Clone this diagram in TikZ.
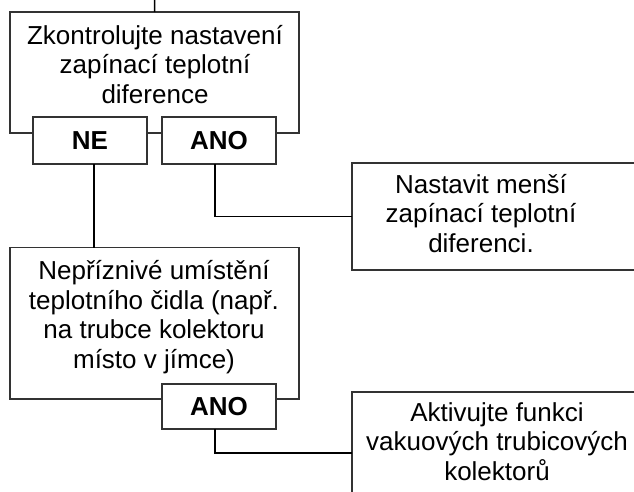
\documentclass[tikz,border=0pt]{standalone}
\usepackage{fontspec}
\setmainfont{Liberation Sans}
\begin{document}
\begin{tikzpicture}[x=1pt,y=-1pt,
  box/.style={draw=black!80, line width=1.5pt, inner sep=0pt, outer sep=0pt, fill=white},
  txt/.style={font=\fontsize{26}{29.5}\selectfont, align=center, anchor=base, inner sep=0pt},
  tag/.style={box, font=\bfseries\fontsize{26}{30}\selectfont},
  wire/.style={line width=1.5pt, draw=black}]
\clip (0,0) rectangle (634,492);
% top question
\node[box, minimum width=289, minimum height=121] (q1) at (154.5,72.5) {};
\node[txt] (t1) at (155,103.5) {Zkontrolujte nastavení\\zapínací teplotní\\diference};
\node[tag, minimum width=114, minimum height=47] (ne) at (90,140.5) {NE};
\node[tag, minimum width=114, minimum height=47] (ano1) at (219,140.5) {ANO};
% right box 1 (clipped on the right)
\node[box, minimum width=300, minimum height=107] (r1) at (502,216.5) {};
\node[txt] (t3) at (481,252) {Nastavit menší\\zapínací teplotní\\diferenci.};
% second question
\node[box, minimum width=289, minimum height=151.3] (q2) at (154.5,323.3) {};
\node[txt] (t2) at (154,368) {Nepříznivé umístění\\teplotního čidla (např.\\na trubce kolektoru\\místo v jímce)};
\node[tag, minimum width=114, minimum height=45] (ano2) at (219,406.5) {ANO};
% right box 2 (clipped right and bottom)
\node[box, minimum width=300, minimum height=122] (r2) at (502,453) {};
\node[txt] (t4) at (497,480) {Aktivujte funkci\\vakuových trubicových\\kolektorů};
% connectors
\coordinate (topin) at (154.7,0);
\draw[wire] (topin) -- (q1.north);
\draw[wire] ([xshift=4]ne.south) -- ([xshift=4]ne.south |- q2.north);
\draw[wire] ([xshift=-4]ano1.south) |- (r1.west);
\draw[wire] ([xshift=-4]ano2.south) |- (r2.west);
\end{tikzpicture}
\end{document}
